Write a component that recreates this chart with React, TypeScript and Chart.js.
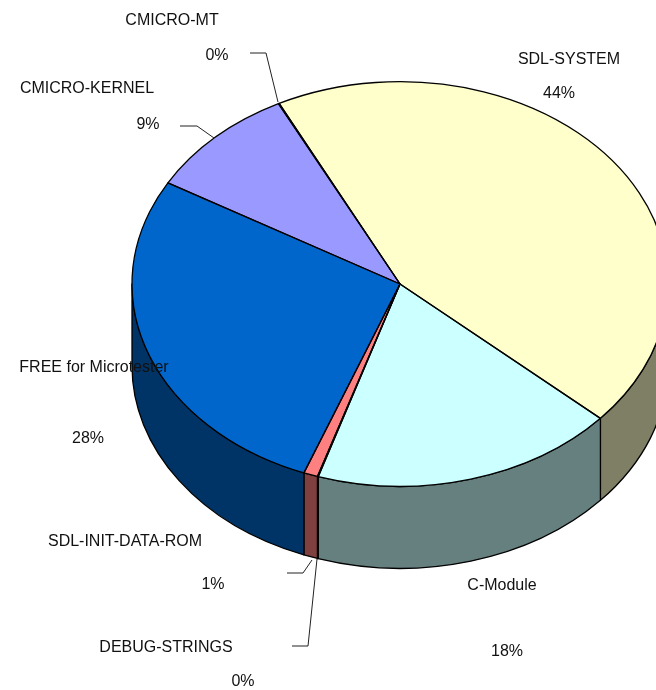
import React, { useEffect, useRef } from "react";
import { Chart, registerables } from "chart.js";

Chart.register(...registerables);

const categories = [
  "SDL-SYSTEM",
  "C-Module",
  "DEBUG-STRINGS",
  "SDL-INIT-DATA-ROM",
  "FREE for Microtester",
  "CMICRO-KERNEL",
  "CMICRO-MT",
];
const shares = [44.0, 18.38, 0.05, 0.85, 27.5, 9.17, 0.05];
const topColors = ["#FFFFCC", "#CCFFFF", "#A6CAF0", "#FF8080", "#0066CC", "#9999FF", "#3366FF"];
const wallColors = ["#7F7F66", "#668080", "#536578", "#804040", "#003366", "#4D4D80", "#1A3380"];

const CANVAS_W = 800;
const CANVAS_H = 690;
const TILT = 0.755;
const CENTER_Y = 284;
const DEPTH = 82;

// Caption anchors: name and percentage centres for each slice, in category order.
const captionAnchors = [
  { name: [569, 60], pct: [559, 94] },
  { name: [502, 586], pct: [507, 652] },
  { name: [166, 648], pct: [243, 682] },
  { name: [125, 542], pct: [213, 585] },
  { name: [94, 368], pct: [88, 439] },
  { name: [87, 89], pct: [148, 125] },
  { name: [172, 21], pct: [217, 56] },
];

// Leader polylines from percentage captions to the small slices.
const leaders = [
  [[250, 53], [266, 53], [278, 102]],
  [[180, 126], [197, 126], [214, 138]],
  [[287, 573], [303, 573], [312, 560]],
  [[292, 646], [308, 646], [317, 559]],
];

function arcGeometry(chart: Chart) {
  return chart.getDatasetMeta(0).data.map((el: any) => {
    const p = el.getProps(["x", "y", "startAngle", "endAngle", "outerRadius"], true);
    return { cx: p.x, cy: CENTER_Y, cyRaw: p.y, r: p.outerRadius, ry: p.outerRadius * TILT, a0: p.startAngle, a1: p.endAngle };
  });
}

// Portions of a slice's rim that face the viewer (lower half of the ellipse).
function frontRanges(a0: number, a1: number) {
  const out: [number, number][] = [];
  for (const k of [-2, 0, 2]) {
    const lo = Math.max(a0, k * Math.PI);
    const hi = Math.min(a1, (k + 1) * Math.PI);
    if (hi > lo) out.push([lo, hi]);
  }
  return out;
}

const pie3d = {
  id: "pie3d",
  beforeDatasetsDraw(chart: Chart) {
    const ctx = chart.ctx;
    ctx.save();
    ctx.lineWidth = 1.3;
    ctx.strokeStyle = "#000";
    ctx.lineJoin = "round";
    arcGeometry(chart).forEach((g, i) => {
      for (const [lo, hi] of frontRanges(g.a0, g.a1)) {
        ctx.beginPath();
        ctx.ellipse(g.cx, g.cy, g.r, g.ry, 0, lo, hi);
        ctx.ellipse(g.cx, g.cy + DEPTH, g.r, g.ry, 0, hi, lo, true);
        ctx.closePath();
        ctx.fillStyle = wallColors[i];
        ctx.fill();
        ctx.stroke();
      }
    });
    ctx.restore();
    // Flatten the library's circular arcs onto the tilted top face.
    const { x, y } = (chart.getDatasetMeta(0).data[0] as any).getProps(["x", "y"], true);
    ctx.save();
    ctx.translate(x, CENTER_Y);
    ctx.scale(1, TILT);
    ctx.translate(-x, -y);
  },
  afterDatasetsDraw(chart: Chart) {
    const ctx = chart.ctx;
    ctx.restore();
    ctx.save();
    ctx.lineWidth = 1.3;
    ctx.strokeStyle = "#000";
    ctx.lineJoin = "round";
    arcGeometry(chart).forEach((g) => {
      ctx.beginPath();
      ctx.moveTo(g.cx, g.cy);
      ctx.ellipse(g.cx, g.cy, g.r, g.ry, 0, g.a0, g.a1);
      ctx.closePath();
      ctx.stroke();
    });
    ctx.lineWidth = 1;
    ctx.strokeStyle = "#222";
    for (const line of leaders) {
      ctx.beginPath();
      line.forEach(([lx, ly], j) => (j ? ctx.lineTo(lx, ly) : ctx.moveTo(lx, ly)));
      ctx.stroke();
    }
    ctx.fillStyle = "#111";
    ctx.font = '16px "Liberation Sans", Arial, sans-serif';
    ctx.textAlign = "center";
    ctx.textBaseline = "middle";
    categories.forEach((name, i) => {
      const a = captionAnchors[i];
      ctx.fillText(name, a.name[0], a.name[1]);
      ctx.fillText(`${Math.round(shares[i])}%`, a.pct[0], a.pct[1]);
    });
    ctx.restore();
  },
};

export default function App() {
  const ref = useRef<HTMLCanvasElement>(null);
  useEffect(() => {
    const chart = new Chart(ref.current!, {
      type: "pie",
      data: {
        labels: categories,
        datasets: [
          {
            data: shares,
            backgroundColor: topColors,
            borderWidth: 0,
            hoverBorderWidth: 0,
            hoverOffset: 0,
            clip: false,
          } as any,
        ],
      },
      options: {
        animation: false,
        responsive: false,
        events: [],
        rotation: -26.8,
        layout: { padding: { left: 132, right: 132, top: 77, bottom: 77 } },
        plugins: { legend: { display: false }, tooltip: { enabled: false } },
      },
      plugins: [pie3d],
    });
    return () => chart.destroy();
  }, []);
  return (
    <div style={{ position: "fixed", inset: 0, overflow: "hidden", background: "#fff" }}>
      <canvas ref={ref} width={CANVAS_W} height={CANVAS_H} style={{ display: "block" }} />
    </div>
  );
}
